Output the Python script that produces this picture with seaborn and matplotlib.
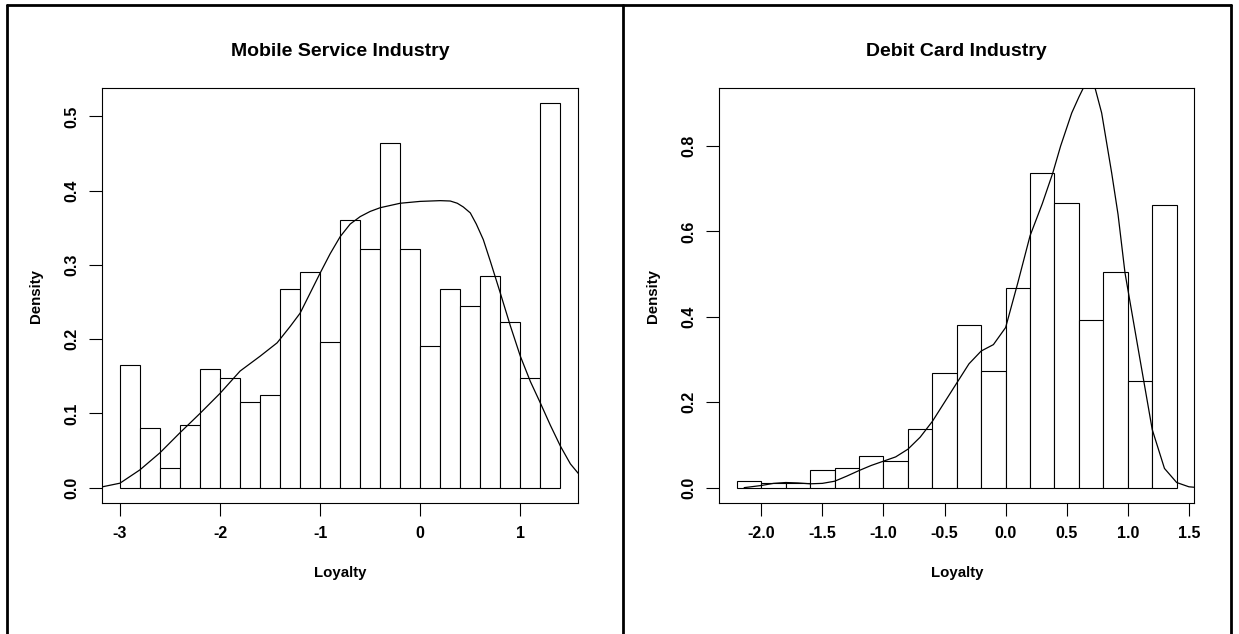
import matplotlib
matplotlib.use('Agg')
import matplotlib.pyplot as plt
from matplotlib.lines import Line2D
import seaborn as sns
import pandas as pd

# Mobile service industry: histogram (density) and smoothed density curve
mobile_edges = [-3.0, -2.8, -2.6, -2.4, -2.2, -2.0, -1.8, -1.6, -1.4, -1.2, -1.0, -0.8,
                -0.6, -0.4, -0.2, 0.0, 0.2, 0.4, 0.6, 0.8, 1.0, 1.2, 1.4]
mobile_density = [0.165, 0.080, 0.026, 0.084, 0.160, 0.147, 0.116, 0.125, 0.267, 0.290, 0.196,
                  0.361, 0.321, 0.464, 0.321, 0.191, 0.267, 0.245, 0.285, 0.223, 0.147, 0.5175]
mobile_kde_x = [-3.18, -3.0, -2.8, -2.6, -2.4, -2.2, -2.0, -1.8, -1.6, -1.43, -1.3, -1.2, -1.1,
                -1.0, -0.9, -0.8, -0.7, -0.6, -0.5, -0.4, -0.2, 0.0, 0.2, 0.3, 0.37, 0.43, 0.5,
                0.56, 0.63, 0.7, 0.8, 0.9, 1.0, 1.1, 1.2, 1.3, 1.4, 1.5, 1.58]
mobile_kde_y = [0.001, 0.006, 0.024, 0.047, 0.074, 0.100, 0.127, 0.157, 0.177, 0.195, 0.217,
                0.235, 0.262, 0.289, 0.315, 0.338, 0.355, 0.365, 0.372, 0.377, 0.383, 0.3855,
                0.3865, 0.386, 0.383, 0.378, 0.370, 0.355, 0.334, 0.305, 0.262, 0.218, 0.177,
                0.143, 0.114, 0.084, 0.056, 0.032, 0.019]

# Debit card industry
debit_edges = [-2.2, -2.0, -1.8, -1.6, -1.4, -1.2, -1.0, -0.8, -0.6, -0.4, -0.2, 0.0, 0.2,
               0.4, 0.6, 0.8, 1.0, 1.2, 1.4]
debit_density = [0.016, 0.012, 0.012, 0.041, 0.047, 0.073, 0.062, 0.137, 0.268, 0.381, 0.274,
                 0.468, 0.738, 0.667, 0.393, 0.505, 0.249, 0.661]
debit_kde_x = [-2.14, -2.0, -1.9, -1.8, -1.7, -1.6, -1.5, -1.4, -1.3, -1.2, -1.1, -1.0, -0.9,
               -0.8, -0.7, -0.6, -0.5, -0.4, -0.3, -0.2, -0.1, 0.0, 0.1, 0.2, 0.3, 0.386, 0.45,
               0.541, 0.6, 0.636, 0.66, 0.686, 0.71, 0.732, 0.786, 0.868, 0.92, 0.977, 1.0,
               1.1, 1.2, 1.3, 1.4, 1.5, 1.54]
debit_kde_y = [0.0, 0.005, 0.010, 0.012, 0.011, 0.009, 0.010, 0.015, 0.027, 0.040, 0.052, 0.062,
               0.072, 0.090, 0.118, 0.155, 0.200, 0.245, 0.290, 0.320, 0.335, 0.375, 0.480,
               0.590, 0.665, 0.737, 0.800, 0.8775, 0.915, 0.936, 0.944, 0.947, 0.944, 0.936,
               0.8775, 0.737, 0.640, 0.503, 0.465, 0.300, 0.136, 0.045, 0.012, 0.002, 0.001]

panels = [
    ('Mobile Service Industry', mobile_edges, mobile_density, mobile_kde_x, mobile_kde_y,
     (-3.176, 1.576), (-0.0207, 0.5382), [-3, -2, -1, 0, 1], [0.0, 0.1, 0.2, 0.3, 0.4, 0.5],
     '{:.0f}', '{:.1f}'),
    ('Debit Card Industry', debit_edges, debit_density, debit_kde_x, debit_kde_y,
     (-2.344, 1.544), (-0.036, 0.936), [-2.0, -1.5, -1.0, -0.5, 0.0, 0.5, 1.0, 1.5],
     [0.0, 0.2, 0.4, 0.6, 0.8], '{:.1f}', '{:.1f}'),
]

sns.set_style('white')
plt.rcParams['font.family'] = ['Liberation Sans', 'DejaVu Sans']
plt.rcParams['font.weight'] = 'bold'
for key in ['text.color', 'axes.labelcolor', 'xtick.color', 'ytick.color', 'axes.edgecolor']:
    plt.rcParams[key] = 'black'

fig = plt.figure(figsize=(12.39, 6.34), dpi=100)
axes = [fig.add_axes([0.0826, 0.2066, 0.3839, 0.6546]),
        fig.add_axes([0.5805, 0.2066, 0.3834, 0.6546])]

for ax, (title, edges, dens, kx, ky, xlim, ylim, xt, yt, xf, yf) in zip(axes, panels):
    mids = [(a + b) / 2 for a, b in zip(edges[:-1], edges[1:])]
    df = pd.DataFrame({'loyalty': mids, 'density': dens})
    sns.histplot(data=df, x='loyalty', weights='density', bins=list(edges), stat='count',
                 color='white', edgecolor='black', linewidth=0.8, alpha=1, ax=ax)
    kde = pd.DataFrame({'x': kx, 'y': ky})
    sns.lineplot(data=kde, x='x', y='y', color='black', linewidth=0.9, estimator=None,
                 sort=False, ax=ax)
    ax.set_xlim(*xlim)
    ax.set_ylim(*ylim)
    ax.set_xticks(xt)
    ax.set_xticklabels([xf.format(v) for v in xt], fontsize=11.5, fontweight='bold')
    ax.set_yticks(yt)
    ax.set_yticklabels([yf.format(v) for v in yt], fontsize=11.5, fontweight='bold',
                       rotation=90, va='center')
    ax.tick_params(axis='both', direction='out', length=9.5, width=0.8, color='black',
                   labelcolor='black', bottom=True, left=True, pad=7)
    for s in ax.spines.values():
        s.set_color('black')
        s.set_linewidth(0.8)
    ax.set_title(title, fontsize=14, fontweight='bold', pad=23, color='black')
    ax.set_xlabel('Loyalty', fontsize=10.8, fontweight='bold', color='black')
    ax.set_ylabel('Density', fontsize=10.8, fontweight='bold', color='black')
    ax.xaxis.set_label_coords(0.5, -0.152)
    ax.yaxis.set_label_coords(-0.124, 0.5)

# outer frame and divider
lw = 2.0
H, W = 634.0, 1239.0
top = 1 - 5.3 / H
for xs, ys in [([6.7 / W, 6.7 / W], [0, top]),
               ([1230.7 / W, 1230.7 / W], [0, top]),
               ([6.7 / W, 1230.7 / W], [top, top]),
               ([622.5 / W, 622.5 / W], [0, top])]:
    fig.add_artist(Line2D(xs, ys, color='black', lw=lw, transform=fig.transFigure))

fig.savefig('out.png', dpi=100)
plt.close(fig)
